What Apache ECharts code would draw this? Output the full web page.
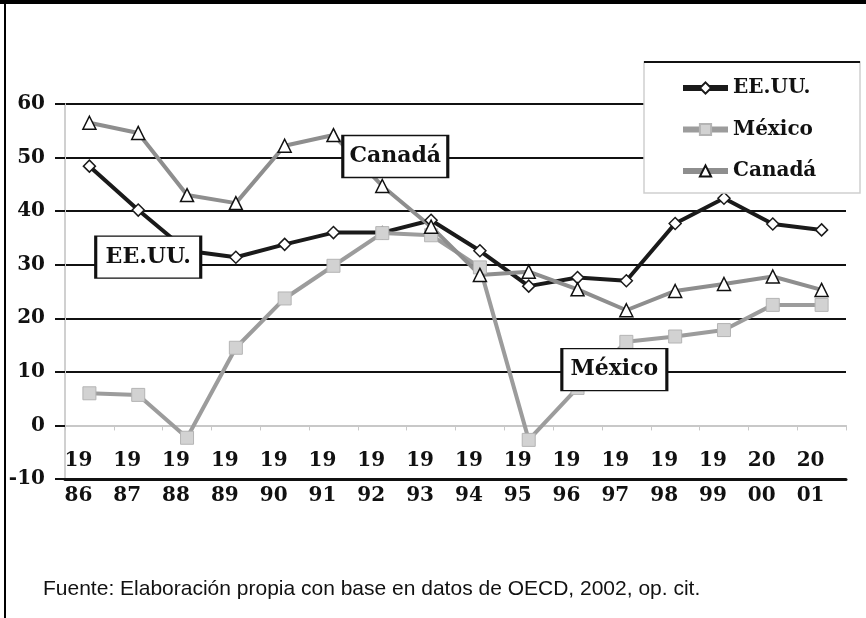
<!DOCTYPE html>
<html>
<head>
<meta charset="utf-8">
<title>EE.UU., México, Canadá</title>
<script src="https://cdn.jsdelivr.net/npm/echarts@6/dist/echarts.min.js"></script>
<style>
	html,body{margin:0;padding:0;background:#fff;}
	#chart{width:866px;height:618px;}
</style>
</head>
<body>
<div id="chart"></div>
<script>
//datos
var years = ['1986','1987','1988','1989','1990','1991','1992','1993','1994','1995','1996','1997','1998','1999','2000','2001'];
var eeuu = [48.4,40.2,32.6,31.4,33.8,36.0,36.0,38.3,32.6,26.0,27.6,27.0,37.7,42.4,37.6,36.5];
var mexico = [6.0,5.7,-2.3,14.5,23.7,29.8,35.9,35.5,29.5,-2.7,7.0,15.6,16.6,17.8,22.5,22.5];
var canada = [56.5,54.6,43.0,41.5,52.2,54.2,44.7,37.1,28.1,28.7,25.4,21.5,25.1,26.4,27.8,25.3];
var yTicks = [-10,60,10];
//etiquetas dentro del grafico: texto, año, valor, desplazamiento
var notes = [
	['EE.UU.','1987',31.4,10],
	['Canadá','1992',50.2,13],
	['México','1997',10.4,-12]
];
var fuente = 'Fuente: Elaboración propia con base en datos de OECD, 2002, op. cit.';

var serif = "'DejaVu Serif', 'Liberation Serif', serif";
var myChart = echarts.init(document.getElementById('chart'));

var marks = [];
for(var i=0;i<notes.length;i++){
	marks.push({
		coord:[notes[i][1],notes[i][2]],
		symbolOffset:[notes[i][3],0],
		label:{formatter:notes[i][0]}
	});
}

var option = {
	backgroundColor:'#fff',
	animation:false,
	grid:{left:65,right:20,top:104,bottom:139},
	legend:{
		orient:'vertical',
		left:680,
		top:76,
		padding:0,
		itemGap:17.5,
		itemWidth:45,
		itemHeight:14,
		z:6,
		lineStyle:{width:6},
		textStyle:{fontFamily:serif,fontWeight:'bold',fontSize:20,lineHeight:24,color:'#111'},
		data:['EE.UU.','México','Canadá']
	},
	xAxis:[{
		type:'category',
		data:years,
		boundaryGap:true,
		axisLine:{onZero:true,lineStyle:{color:'#c8c8c8',width:2}},
		axisTick:{show:true,length:5,lineStyle:{color:'#c8c8c8',width:1}},
		axisLabel:{show:false},
		splitLine:{show:false}
	},{
		type:'category',
		data:years,
		position:'bottom',
		axisLine:{onZero:false,lineStyle:{color:'#111',width:3}},
		axisTick:{show:false},
		axisLabel:{
			interval:0,
			showMinLabel:true,
			showMaxLabel:true,
			hideOverlap:false,
			margin:-1,
			verticalAlign:'middle',
			lineHeight:35,
			padding:[0,22,0,0],
			fontFamily:serif,fontWeight:'bold',fontSize:20,color:'#111',
			formatter:function(v){ return v.substr(0,2)+'\n'+v.substr(2,2); }
		}
	}],
	yAxis:{
		type:'value',
		min:yTicks[0],
		max:yTicks[1],
		interval:yTicks[2],
		axisLine:{show:true,lineStyle:{color:'#d0d0d0',width:2}},
		axisTick:{show:true,length:10,lineStyle:{color:'#111',width:2}},
		axisLabel:{margin:20,fontFamily:serif,fontWeight:'bold',fontSize:20,color:'#111'},
		splitLine:{show:true,lineStyle:{color:['#111','#c8c8c8','#111','#111','#111','#111','#111','#111'],width:2}}
	},
	series:[{
		name:'EE.UU.',
		type:'line',
		data:eeuu,
		symbol:'diamond',
		symbolSize:12,
		lineStyle:{color:'#1a1a1a',width:4},
		itemStyle:{color:'#fff',borderColor:'#1a1a1a',borderWidth:1.5}
	},{
		name:'México',
		type:'line',
		data:mexico,
		symbol:'rect',
		symbolSize:13,
		lineStyle:{color:'#9c9c9c',width:4},
		itemStyle:{color:'#d2d2d2',borderColor:'#b4b4b4',borderWidth:1}
	},{
		name:'Canadá',
		type:'line',
		data:canada,
		symbol:'triangle',
		symbolSize:13,
		lineStyle:{color:'#8e8e8e',width:4},
		itemStyle:{color:'#fff',borderColor:'#111',borderWidth:1.5},
		markPoint:{
			silent:true,
			symbol:'rect',
			symbolSize:[105,42],
			itemStyle:{color:'#fff',borderColor:'#111',borderWidth:2},
			label:{show:true,position:'inside',fontFamily:serif,fontWeight:'bold',fontSize:22,color:'#111'},
			data:marks
		}
	}],
	graphic:[
		//caja de la leyenda
		{type:'rect',z:4,shape:{x:644,y:62,width:216,height:131},style:{fill:'#fff',stroke:'#cfcfcf',lineWidth:1.5}},
		{type:'line',z:5,shape:{x1:644,y1:62,x2:860,y2:62},style:{stroke:'#111',lineWidth:2}},
		//marco
		{type:'rect',z:10,shape:{x:0,y:0,width:866,height:4},style:{fill:'#000'}},
		{type:'rect',z:10,shape:{x:4,y:0,width:2,height:618},style:{fill:'#000'}},
		//fuente
		{type:'text',z:10,left:43,top:579,style:{text:fuente,fill:'#111',font:"21px 'Liberation Sans Narrow', 'Liberation Sans', sans-serif"}}
	]
};
myChart.setOption(option);
</script>
</body>
</html>
